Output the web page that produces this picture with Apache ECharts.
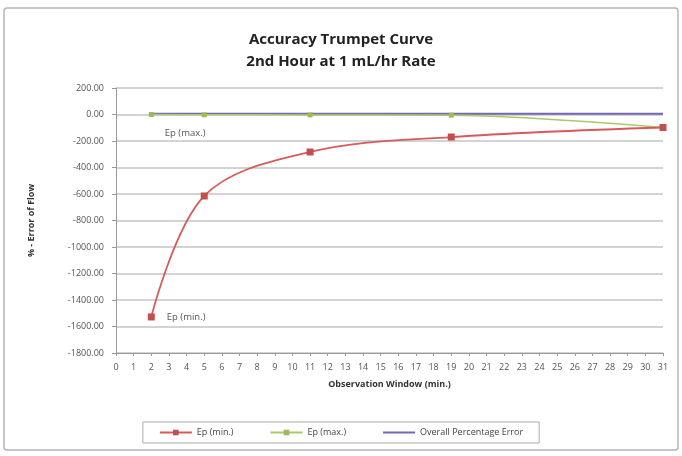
<!DOCTYPE html>
<html>
<head>
<meta charset="utf-8">
<script src="https://cdn.jsdelivr.net/npm/echarts@6/dist/echarts.min.js"></script>
<style>html,body{margin:0;padding:0;background:#fff}#c{width:682px;height:456px}</style>
</head>
<body>
<div id="c"></div>
<script>
var xValues = [2, 5, 11, 19, 31];
var epMin = [-1528, -615, -283, -170, -98];
var epMax = [0, -2, -3, -5, -98];
var overall = [5, 5, 5, 5, 5];
var yTicks = [200, 0, -200, -400, -600, -800, -1000, -1200, -1400, -1600, -1800];

function pairs(xs, ys) { return xs.map(function (x, i) { return [x, ys[i]]; }); }

var font = '"Open Sans", "Liberation Sans", sans-serif';
var chart = echarts.init(document.getElementById('c'));
chart.setOption({
  backgroundColor: '#fff',
  animation: false,
  title: {
    text: 'Accuracy Trumpet Curve\n2nd Hour at 1 mL/hr Rate',
    left: 'center', top: 24,
    textStyle: { fontFamily: font, fontSize: 15, fontWeight: 'bold', color: '#222', lineHeight: 22 }
  },
  graphic: [{
    type: 'rect', shape: { x: 4, y: 8, width: 674, height: 442, r: 3 },
    style: { fill: 'none', stroke: '#b5b5b5', lineWidth: 1.5 }, silent: true
  }],
  legend: {
    bottom: 13, left: 'center',
    padding: [6, 16, 6, 16],
    borderColor: '#aaa', borderWidth: 1,
    itemWidth: 32, itemHeight: 7, itemGap: 36,
    textStyle: { fontFamily: font, fontSize: 9, color: '#444' },
    data: [
      { name: 'Ep (min.)' },
      { name: 'Ep (max.)' },
      { name: 'Overall Percentage Error', itemStyle: { opacity: 0 } }
    ]
  },
  grid: { left: 116, right: 19, top: 88, bottom: 103 },
  xAxis: [{
    type: 'value', min: 0, max: 31, interval: 1,
    name: 'Observation Window (min.)', nameLocation: 'middle', nameGap: 27,
    nameTextStyle: { fontFamily: font, fontSize: 9, fontWeight: 'bold', color: '#333' },
    axisLine: { show: false }, axisTick: { show: false },
    axisLabel: { fontFamily: font, fontSize: 9, color: '#555', margin: 10 },
    splitLine: { show: false }
  }, {
    type: 'value', min: 0, max: 31, interval: 1, position: 'bottom',
    axisLine: { show: true, onZero: true, lineStyle: { color: '#999' } },
    axisTick: { show: true, length: 3, lineStyle: { color: '#999' } },
    axisLabel: { show: false }, splitLine: { show: false }
  }],
  yAxis: {
    type: 'value', min: -1800, max: 200, interval: 200,
    name: '% - Error of Flow', nameLocation: 'middle', nameGap: 80, nameRotate: 90,
    nameTextStyle: { fontFamily: font, fontSize: 9, fontWeight: 'bold', color: '#333' },
    axisLine: { show: true, lineStyle: { color: '#999' } },
    axisTick: { show: true, length: 4, lineStyle: { color: '#999' } },
    axisLabel: { fontFamily: font, fontSize: 9, color: '#555', margin: 12,
      formatter: function (v) { return v.toFixed(2); } },
    splitLine: { lineStyle: { color: '#c4c4c4', width: 1.5 } }
  },
  series: [{
    name: 'Ep (min.)', type: 'line', smooth: 0.35,
    data: pairs(xValues, epMin), symbol: 'rect', symbolSize: 7,
    itemStyle: { color: '#C0504D' }, lineStyle: { color: '#D9595A', width: 1.8 },
    label: { show: true, position: 'right', distance: 12, fontFamily: font, fontSize: 9.5, color: '#555',
      formatter: function (p) { return p.dataIndex === 0 ? 'Ep (min.)' : ''; } },
    z: 3
  }, {
    name: 'Ep (max.)', type: 'line', smooth: 0.35,
    data: pairs(xValues, epMax), symbol: 'rect', symbolSize: 5,
    itemStyle: { color: '#9BBB59' }, lineStyle: { color: '#A9C96A', width: 1.5 },
    label: { show: true, position: 'right', offset: [6, 19], fontFamily: font, fontSize: 9.5, color: '#555',
      formatter: function (p) { return p.dataIndex === 0 ? 'Ep (max.)' : ''; } },
    z: 2
  }, {
    name: 'Overall Percentage Error', type: 'line',
    data: pairs(xValues, overall), symbol: 'none', showSymbol: false,
    itemStyle: { color: '#7467B3' }, lineStyle: { color: '#7467B3', width: 2 },
    z: 1
  }]
});
</script>
</body>
</html>
